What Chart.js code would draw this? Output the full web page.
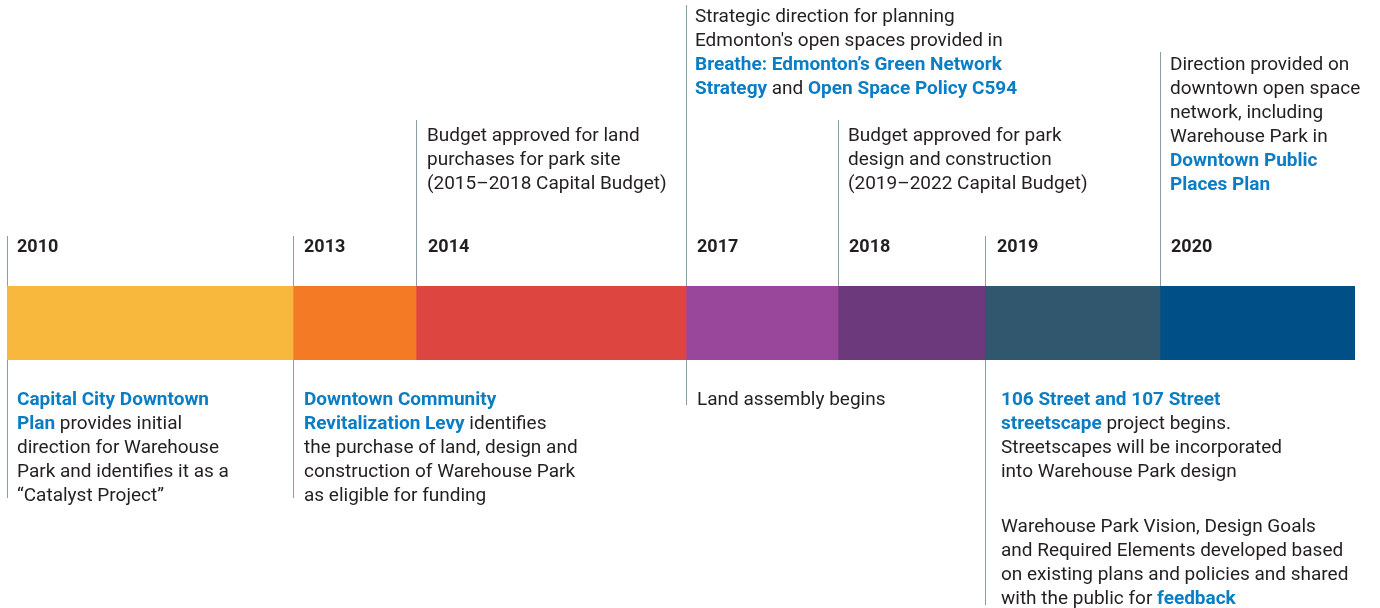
<!DOCTYPE html>
<html>
<head>
<meta charset="utf-8">
<script src="https://cdn.jsdelivr.net/npm/chart.js@4.4.0/dist/chart.umd.min.js"></script>
<style>
  html, body { margin: 0; padding: 0; background: #fff; }
  #wrap { width: 1380px; height: 608px; }
</style>
</head>
<body>
<div id="wrap"><canvas id="timeline" width="1380" height="608"></canvas></div>
<script>
// milestone years and the length of each period on the bar (scale units)
const years = ['2010', '2013', '2014', '2017', '2018', '2019', '2020'];
const spans = [286, 123, 270, 152, 147, 175, 195];
const colors = ['#f8b83e', '#f47a26', '#dd4640', '#98479a', '#6c3a7c', '#31576f', '#005088'];

// notes above the bar, **...** = blue bold
const notesAbove = [
  null,
  null,
  ['Budget approved for land', 'purchases for park site', '(2015–2018 Capital Budget)'],
  ['Strategic direction for planning', "Edmonton's open spaces provided in",
   '**Breathe: Edmonton’s Green Network**', '**Strategy** and **Open Space Policy C594**'],
  ['Budget approved for park', 'design and construction', '(2019–2022 Capital Budget)'],
  null,
  ['Direction provided on', 'downtown open space', 'network, including', 'Warehouse Park in',
   '**Downtown Public**', '**Places Plan**']
];

// notes below the bar
const notesBelow = [
  ['**Capital City Downtown**', '**Plan** provides initial', 'direction for Warehouse',
   'Park and identifies it as a', '“Catalyst Project”'],
  ['**Downtown Community**', '**Revitalization Levy** identifies', 'the purchase of land, design and',
   'construction of Warehouse Park', 'as eligible for funding'],
  null,
  ['Land assembly begins'],
  null,
  ['**106 Street and 107 Street**', '**streetscape** project begins.', 'Streetscapes will be incorporated',
   'into Warehouse Park design'],
  null
];
const extraNote2019 = ['Warehouse Park Vision, Design Goals', 'and Required Elements developed based',
  'on existing plans and policies and shared', 'with the public for **feedback**'];

// layout only
const guide = [
  { top: 236, bottom: 498 }, { top: 236, bottom: 498 }, { top: 120, bottom: 286 },
  { top: 5, bottom: 405 }, { top: 120, bottom: 286 }, { top: 236, bottom: 605 },
  { top: 52, bottom: 286 }
];
const aboveY = [0, 0, 141, 22, 141, 0, 70];
const aboveDx = [0, 0, 11, 9, 10, 0, 10];
const yearDx = [10, 11, 12, 11, 11, 12, 11];
const belowDx = [10, 11, 0, 11, 0, 16, 0];
const LINE_H = 24;
const TEXT = '#231f20';
const BLUE = '#0b7dc4';
const REG = '19px Roboto';
const BOLD = 'bold 19px Roboto';

function drawRich(ctx, line, x, y) {
  const parts = line.split('**');
  let cx = x;
  parts.forEach((p, i) => {
    if (!p) return;
    const bold = i % 2 === 1;
    ctx.font = bold ? BOLD : REG;
    ctx.fillStyle = bold ? BLUE : TEXT;
    ctx.fillText(p, cx, y);
    cx += ctx.measureText(p).width;
  });
}

function drawBlock(ctx, lines, x, y) {
  lines.forEach((l, i) => drawRich(ctx, l, x, y + i * LINE_H));
}

const starts = spans.map((s, i) => spans.slice(0, i).reduce((a, b) => a + b, 0));

const timelinePlugin = {
  id: 'timeline',
  beforeDatasetsDraw(chart) {
    const ctx = chart.ctx;
    const xs = chart.scales.x;
    ctx.save();
    ctx.strokeStyle = '#8a9ea8';
    ctx.lineWidth = 1;
    starts.forEach((v, i) => {
      const px = Math.round(xs.getPixelForValue(v)) + 0.5;
      ctx.beginPath();
      ctx.moveTo(px, guide[i].top);
      ctx.lineTo(px, guide[i].bottom);
      ctx.stroke();
    });
    ctx.restore();
  },
  afterDatasetsDraw(chart) {
    const ctx = chart.ctx;
    const xs = chart.scales.x;
    ctx.save();
    ctx.textBaseline = 'alphabetic';
    ctx.textAlign = 'left';
    starts.forEach((v, i) => {
      const px = Math.round(xs.getPixelForValue(v));
      ctx.font = 'bold 18px Roboto';
      ctx.fillStyle = TEXT;
      ctx.fillText(years[i], px + yearDx[i], 252);
      if (notesAbove[i]) drawBlock(ctx, notesAbove[i], px + aboveDx[i], aboveY[i]);
      if (notesBelow[i]) drawBlock(ctx, notesBelow[i], px + belowDx[i], 405);
    });
    const px19 = Math.round(xs.getPixelForValue(starts[5]));
    drawBlock(ctx, extraNote2019, px19 + belowDx[5], 532);
    ctx.restore();
  }
};

const ctx = document.getElementById('timeline').getContext('2d');
new Chart(ctx, {
  type: 'bar',
  data: {
    labels: ['Warehouse Park'],
    datasets: years.map((y, i) => ({
      label: y,
      data: [spans[i]],
      backgroundColor: colors[i],
      borderWidth: 0,
      barPercentage: 1,
      categoryPercentage: 1
    }))
  },
  options: {
    indexAxis: 'y',
    responsive: false,
    animation: false,
    layout: { padding: { left: 7, right: 25, top: 286, bottom: 248 } },
    plugins: { legend: { display: false }, tooltip: { enabled: false } },
    scales: {
      x: { stacked: true, min: 0, max: 1348, display: false },
      y: { stacked: true, display: false }
    }
  },
  plugins: [timelinePlugin]
});
</script>
</body>
</html>
